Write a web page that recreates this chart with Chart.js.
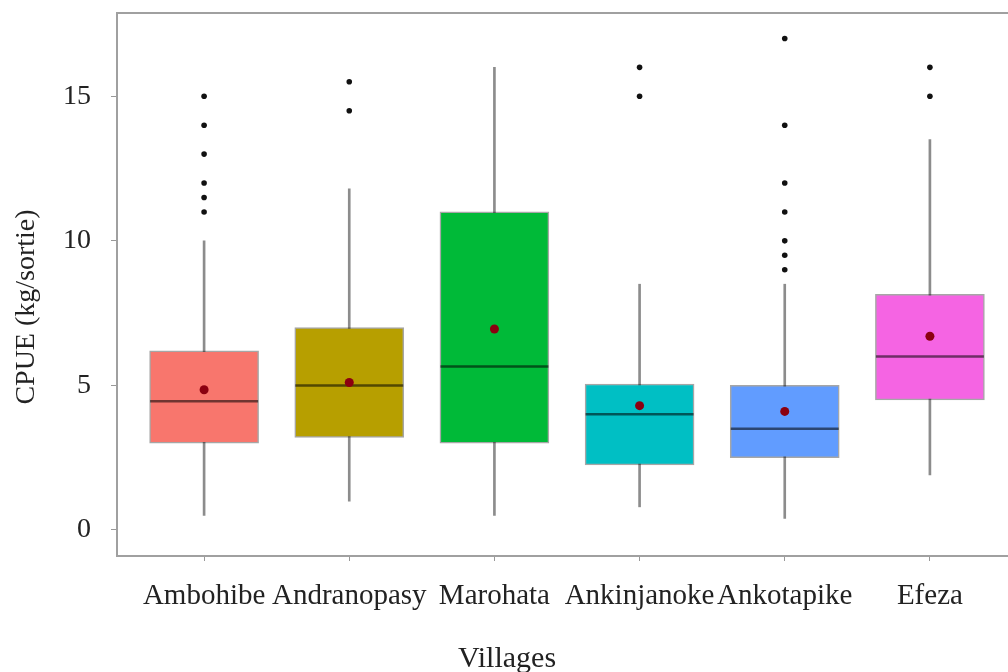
<!DOCTYPE html>
<html lang="fr">
<head>
<meta charset="UTF-8">
<title>CPUE par village</title>
<script src="https://cdn.jsdelivr.net/npm/chart.js"></script>
<style>
  html, body { margin: 0; padding: 0; background: #fff; overflow: hidden; }
  #wrap { width: 1024px; height: 672px; }
</style>
</head>
<body>
<div id="wrap"><canvas id="boxChart" width="1024" height="672"></canvas></div>
<script>
// villages and box statistics
const villages    = ['Ambohibe', 'Andranopasy', 'Marohata', 'Ankinjanoke', 'Ankotapike', 'Efeza'];
const whiskerLow  = [0.5, 1.0, 0.5, 0.8, 0.4, 1.9];
const q1          = [3.0, 3.2, 3.0, 2.25, 2.5, 4.5];
const median      = [4.45, 5.0, 5.65, 4.0, 3.5, 6.0];
const q3          = [6.2, 7.0, 11.0, 5.05, 5.0, 8.15];
const whiskerHigh = [10.0, 11.8, 16.0, 8.5, 8.5, 13.5];
const mean        = [4.85, 5.1, 6.95, 4.3, 4.1, 6.7];
const outliers    = [
    [11, 11.5, 12, 13, 14, 15],
    [14.5, 15.5],
    [],
    [15, 16],
    [9, 9.5, 10, 11, 12, 14, 17],
    [15, 16]
];
const yTicks = [0, 5, 10, 15];

const fills = ['#F8766D', '#B79F00', '#00BA38', '#00BFC4', '#619CFF', '#F564E3'];
const serif = '"Liberation Serif", "Times New Roman", serif';

// frame round the plot + axis titles
const framePlugin = {
    id: 'frame',
    beforeDatasetsDraw(chart) {
        const { ctx, chartArea: a } = chart;
        ctx.save();
        ctx.strokeStyle = '#a0a0a0';
        ctx.lineWidth = 2;
        ctx.strokeRect(a.left, a.top, a.right - a.left, a.bottom - a.top);
        ctx.restore();
    },
    afterDraw(chart) {
        const ctx = chart.ctx;
        ctx.save();
        ctx.fillStyle = '#222';
        ctx.textAlign = 'center';
        ctx.font = '28px ' + serif;
        ctx.translate(27, 307);
        ctx.rotate(-Math.PI / 2);
        ctx.textBaseline = 'middle';
        ctx.fillText('CPUE (kg/sortie)', 0, 0);
        ctx.restore();
        ctx.save();
        ctx.fillStyle = '#222';
        ctx.textAlign = 'center';
        ctx.textBaseline = 'alphabetic';
        ctx.font = '30px ' + serif;
        ctx.fillText('Villages', 507, 667);
        ctx.restore();
    }
};

const idx = villages.map((_, i) => i);

new Chart(document.getElementById('boxChart'), {
    type: 'bar',
    data: {
        datasets: [
            {
                label: 'whiskers',
                data: idx.map(i => ({ x: i, y: [whiskerLow[i], whiskerHigh[i]] })),
                backgroundColor: '#8c8c8c',
                barThickness: 2,
                grouped: false,
                order: 5
            },
            {
                label: 'boxes',
                data: idx.map(i => ({ x: i, y: [q1[i], q3[i]] })),
                backgroundColor: fills,
                borderColor: 'rgba(0,0,0,0.35)',
                borderWidth: 1.5,
                borderSkipped: false,
                barThickness: 109,
                grouped: false,
                order: 4
            },
            {
                type: 'scatter',
                label: 'median',
                data: idx.map(i => ({ x: i, y: median[i] })),
                pointStyle: 'line',
                pointRadius: 54,
                borderColor: 'rgba(0,0,0,0.55)',
                borderWidth: 2.5,
                order: 3
            },
            {
                type: 'scatter',
                label: 'mean',
                data: idx.map(i => ({ x: i, y: mean[i] })),
                pointRadius: 4.5,
                backgroundColor: '#8b0010',
                borderWidth: 0,
                order: 2
            },
            {
                type: 'scatter',
                label: 'outliers',
                data: outliers.flatMap((vals, i) => vals.map(v => ({ x: i, y: v }))),
                pointRadius: 2.8,
                backgroundColor: '#111',
                borderWidth: 0,
                order: 1
            }
        ]
    },
    options: {
        responsive: false,
        animation: false,
        layout: { autoPadding: false, padding: { top: 13, right: 7, left: 0, bottom: 0 } },
        plugins: { legend: { display: false }, tooltip: { enabled: false } },
        scales: {
            x: {
                type: 'linear',
                min: -0.6,
                max: 5.6,
                offset: false,
                afterBuildTicks: s => { s.ticks = idx.map(i => ({ value: i })); },
                afterFit: s => { s.height = 116; s.paddingLeft = 0; s.paddingRight = 0; },
                grid: { offset: false, drawOnChartArea: false, drawTicks: true, tickLength: 5, color: '#999' },
                border: { display: false },
                ticks: {
                    autoSkip: false,
                    maxRotation: 0,
                    minRotation: 0,
                    padding: 18,
                    color: '#222',
                    font: { family: serif, size: 29 },
                    callback: v => villages[v] ?? ''
                }
            },
            y: {
                min: -0.9,
                max: 17.88,
                afterBuildTicks: s => { s.ticks = yTicks.map(v => ({ value: v })); },
                afterFit: s => { s.width = 117; s.paddingTop = 0; s.paddingBottom = 0; },
                grid: { drawOnChartArea: false, drawTicks: true, tickLength: 6, color: '#999' },
                border: { display: false },
                ticks: {
                    padding: 20,
                    color: '#222',
                    font: { family: serif, size: 28 }
                }
            }
        }
    },
    plugins: [framePlugin]
});
</script>
</body>
</html>
